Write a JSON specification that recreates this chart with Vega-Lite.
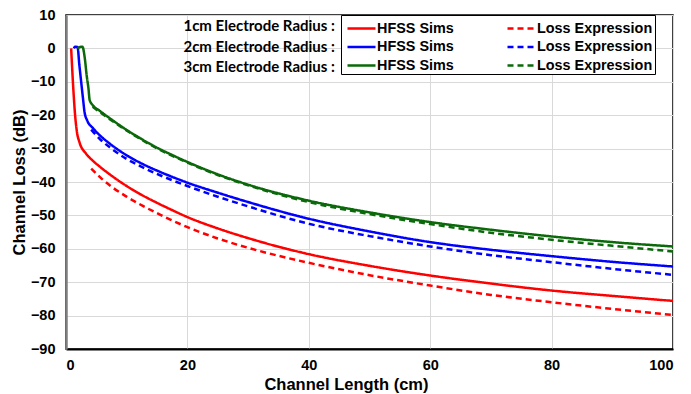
{
  "$schema": "https://vega.github.io/schema/vega-lite/v6.json",
  "width": 607,
  "height": 334,
  "autosize": "none",
  "padding": {"left": 66, "top": 15, "right": 18, "bottom": 45},
  "background": "white",
  "config": {
    "view": {"stroke": "#000000", "strokeWidth": 1.5},
    "font": "Liberation Sans",
    "axis": {
      "labelFont": "Liberation Sans",
      "labelFontWeight": "bold",
      "labelFontSize": 14.5,
      "labelColor": "#000000",
      "labelOverlap": false,
      "titleFont": "Liberation Sans",
      "titleFontWeight": "bold",
      "titleFontSize": 16.5,
      "titleColor": "#000000",
      "gridColor": "#d9d9d9",
      "gridWidth": 1,
      "ticks": false
    }
  },
  "datasets": {
    "curves": [
      {"series": "1cm HFSS", "x": 0.85, "y": 0},
      {"series": "1cm HFSS", "x": 1.2, "y": -12},
      {"series": "1cm HFSS", "x": 1.5, "y": -20},
      {"series": "1cm HFSS", "x": 1.8, "y": -25},
      {"series": "1cm HFSS", "x": 2.2, "y": -28},
      {"series": "1cm HFSS", "x": 3.3, "y": -31.5},
      {"series": "1cm HFSS", "x": 4.4, "y": -33.6},
      {"series": "1cm HFSS", "x": 5.5, "y": -35.3},
      {"series": "1cm HFSS", "x": 7.5, "y": -38.1},
      {"series": "1cm HFSS", "x": 9.9, "y": -41.1},
      {"series": "1cm HFSS", "x": 12.5, "y": -43.9},
      {"series": "1cm HFSS", "x": 15.4, "y": -46.6},
      {"series": "1cm HFSS", "x": 17, "y": -48},
      {"series": "1cm HFSS", "x": 20, "y": -50.5},
      {"series": "1cm HFSS", "x": 25, "y": -53.9},
      {"series": "1cm HFSS", "x": 30, "y": -56.8},
      {"series": "1cm HFSS", "x": 40, "y": -61.6},
      {"series": "1cm HFSS", "x": 50, "y": -65.1},
      {"series": "1cm HFSS", "x": 60, "y": -68},
      {"series": "1cm HFSS", "x": 70, "y": -70.4},
      {"series": "1cm HFSS", "x": 80, "y": -72.5},
      {"series": "1cm HFSS", "x": 90, "y": -74.1},
      {"series": "1cm HFSS", "x": 100, "y": -75.6},

      {"series": "1cm Loss", "x": 4.15, "y": -36},
      {"series": "1cm Loss", "x": 6, "y": -39.2},
      {"series": "1cm Loss", "x": 7.5, "y": -41.4},
      {"series": "1cm Loss", "x": 9.9, "y": -44.3},
      {"series": "1cm Loss", "x": 12.5, "y": -47},
      {"series": "1cm Loss", "x": 15.4, "y": -49.7},
      {"series": "1cm Loss", "x": 17, "y": -51.1},
      {"series": "1cm Loss", "x": 20, "y": -53.5},
      {"series": "1cm Loss", "x": 25, "y": -56.9},
      {"series": "1cm Loss", "x": 30, "y": -59.7},
      {"series": "1cm Loss", "x": 40, "y": -64.2},
      {"series": "1cm Loss", "x": 50, "y": -67.9},
      {"series": "1cm Loss", "x": 60, "y": -71},
      {"series": "1cm Loss", "x": 70, "y": -73.8},
      {"series": "1cm Loss", "x": 80, "y": -76},
      {"series": "1cm Loss", "x": 90, "y": -78},
      {"series": "1cm Loss", "x": 100, "y": -79.8},

      {"series": "2cm HFSS", "x": 1.3, "y": 0},
      {"series": "2cm HFSS", "x": 1.5, "y": 0.5},
      {"series": "2cm HFSS", "x": 1.9, "y": 0.4},
      {"series": "2cm HFSS", "x": 2.2, "y": -5},
      {"series": "2cm HFSS", "x": 2.5, "y": -10},
      {"series": "2cm HFSS", "x": 2.8, "y": -15},
      {"series": "2cm HFSS", "x": 3.05, "y": -19},
      {"series": "2cm HFSS", "x": 3.5, "y": -21.6},
      {"series": "2cm HFSS", "x": 4.4, "y": -23.8},
      {"series": "2cm HFSS", "x": 5.5, "y": -25.9},
      {"series": "2cm HFSS", "x": 7.2, "y": -28.5},
      {"series": "2cm HFSS", "x": 9.9, "y": -31.9},
      {"series": "2cm HFSS", "x": 12.5, "y": -34.5},
      {"series": "2cm HFSS", "x": 15.4, "y": -36.9},
      {"series": "2cm HFSS", "x": 17, "y": -38.1},
      {"series": "2cm HFSS", "x": 20, "y": -40.2},
      {"series": "2cm HFSS", "x": 25, "y": -43.2},
      {"series": "2cm HFSS", "x": 30, "y": -46},
      {"series": "2cm HFSS", "x": 40, "y": -51},
      {"series": "2cm HFSS", "x": 50, "y": -54.8},
      {"series": "2cm HFSS", "x": 60, "y": -58},
      {"series": "2cm HFSS", "x": 70, "y": -60.3},
      {"series": "2cm HFSS", "x": 80, "y": -62.2},
      {"series": "2cm HFSS", "x": 90, "y": -63.9},
      {"series": "2cm HFSS", "x": 100, "y": -65.3},

      {"series": "2cm Loss", "x": 4.15, "y": -24.3},
      {"series": "2cm Loss", "x": 5.5, "y": -27},
      {"series": "2cm Loss", "x": 7.2, "y": -29.6},
      {"series": "2cm Loss", "x": 9.9, "y": -33},
      {"series": "2cm Loss", "x": 12.5, "y": -35.5},
      {"series": "2cm Loss", "x": 15.4, "y": -37.9},
      {"series": "2cm Loss", "x": 17, "y": -39.1},
      {"series": "2cm Loss", "x": 20, "y": -41.2},
      {"series": "2cm Loss", "x": 25, "y": -44.4},
      {"series": "2cm Loss", "x": 30, "y": -47.3},
      {"series": "2cm Loss", "x": 40, "y": -52.5},
      {"series": "2cm Loss", "x": 50, "y": -56.2},
      {"series": "2cm Loss", "x": 60, "y": -59.3},
      {"series": "2cm Loss", "x": 70, "y": -61.9},
      {"series": "2cm Loss", "x": 80, "y": -64},
      {"series": "2cm Loss", "x": 90, "y": -66},
      {"series": "2cm Loss", "x": 100, "y": -67.8},

      {"series": "3cm HFSS", "x": 1.9, "y": 0},
      {"series": "3cm HFSS", "x": 2.3, "y": 0.4},
      {"series": "3cm HFSS", "x": 2.7, "y": 0.5},
      {"series": "3cm HFSS", "x": 3.1, "y": -3},
      {"series": "3cm HFSS", "x": 3.4, "y": -8},
      {"series": "3cm HFSS", "x": 3.7, "y": -12},
      {"series": "3cm HFSS", "x": 3.9, "y": -15.5},
      {"series": "3cm HFSS", "x": 4.4, "y": -17},
      {"series": "3cm HFSS", "x": 5.5, "y": -18.6},
      {"series": "3cm HFSS", "x": 7.2, "y": -20.9},
      {"series": "3cm HFSS", "x": 9.9, "y": -24.3},
      {"series": "3cm HFSS", "x": 12.5, "y": -27.2},
      {"series": "3cm HFSS", "x": 15.4, "y": -30.1},
      {"series": "3cm HFSS", "x": 17, "y": -31.5},
      {"series": "3cm HFSS", "x": 20, "y": -34},
      {"series": "3cm HFSS", "x": 25, "y": -37.7},
      {"series": "3cm HFSS", "x": 30, "y": -40.8},
      {"series": "3cm HFSS", "x": 40, "y": -45.6},
      {"series": "3cm HFSS", "x": 50, "y": -49.1},
      {"series": "3cm HFSS", "x": 60, "y": -52},
      {"series": "3cm HFSS", "x": 70, "y": -54.3},
      {"series": "3cm HFSS", "x": 80, "y": -56.3},
      {"series": "3cm HFSS", "x": 90, "y": -58},
      {"series": "3cm HFSS", "x": 100, "y": -59.3},

      {"series": "3cm Loss", "x": 4.4, "y": -17.5},
      {"series": "3cm Loss", "x": 5.5, "y": -19},
      {"series": "3cm Loss", "x": 7.2, "y": -21.2},
      {"series": "3cm Loss", "x": 9.9, "y": -24.5},
      {"series": "3cm Loss", "x": 12.5, "y": -27.4},
      {"series": "3cm Loss", "x": 15.4, "y": -30.3},
      {"series": "3cm Loss", "x": 17, "y": -31.7},
      {"series": "3cm Loss", "x": 20, "y": -34.2},
      {"series": "3cm Loss", "x": 25, "y": -37.9},
      {"series": "3cm Loss", "x": 30, "y": -41},
      {"series": "3cm Loss", "x": 40, "y": -46},
      {"series": "3cm Loss", "x": 50, "y": -49.6},
      {"series": "3cm Loss", "x": 60, "y": -52.6},
      {"series": "3cm Loss", "x": 70, "y": -55.2},
      {"series": "3cm Loss", "x": 80, "y": -57.3},
      {"series": "3cm Loss", "x": 90, "y": -59.1},
      {"series": "3cm Loss", "x": 100, "y": -60.8}
    ],
    "rowlabels": [
      {"label": "1cm Electrode Radius :", "x": 44.3, "y": 6.7},
      {"label": "2cm Electrode Radius :", "x": 44.3, "y": 0.55},
      {"label": "3cm Electrode Radius :", "x": 44.3, "y": -5.6}
    ]
  },
  "layer": [
    {
      "data": {"name": "curves"},
      "mark": {"type": "line", "strokeWidth": 2.5, "interpolate": "monotone", "clip": true},
      "encoding": {
        "x": {
          "field": "x", "type": "quantitative",
          "scale": {"domain": [0, 100], "nice": false},
          "axis": {
            "title": "Channel Length (cm)",
            "values": [0, 20, 40, 60, 80, 100],
            "tickCount": 20,
            "labelPadding": 9,
            "titlePadding": 5,
            "titleX": 280,
            "domainColor": "#000000",
            "domainWidth": 2
          }
        },
        "y": {
          "field": "y", "type": "quantitative",
          "scale": {"domain": [-90, 10], "nice": false},
          "axis": {
            "title": "Channel Loss (dB)",
            "values": [-90, -80, -70, -60, -50, -40, -30, -20, -10, 0, 10],
            "tickCount": 20,
            "labelOverlap": false,
            "labelPadding": 11,
            "titlePadding": 3,
            "domainColor": "#7f7f7f",
            "domainWidth": 2.5
          }
        },
        "color": {
          "field": "series", "type": "nominal",
          "scale": {
            "domain": ["1cm HFSS", "1cm Loss", "2cm HFSS", "2cm Loss", "3cm HFSS", "3cm Loss"],
            "range": ["#ff0000", "#ff0000", "#0000ff", "#0000ff", "#0b690b", "#0b690b"]
          },
          "legend": {
            "title": null,
            "orient": "none",
            "legendX": 275,
            "legendY": 0,
            "columns": 2,
            "direction": "horizontal",
            "columnPadding": 48,
            "rowPadding": 0.5,
            "padding": 2,
            "symbolOffset": 7,
            "strokeColor": "#000000",
            "fillColor": "#ffffff",
            "symbolType": "M-1.4,0H1.4",
            "symbolSize": 400,
            "symbolStrokeWidth": 2.5,
            "labelFont": "Liberation Sans",
            "labelFontWeight": "bold",
            "labelFontSize": 14.4,
            "labelColor": "#000000",
            "labelOffset": 4,
            "labelExpr": "indexof(datum.label, 'HFSS') >= 0 ? 'HFSS Sims' : 'Loss Expression'"
          }
        },
        "strokeDash": {
          "field": "series", "type": "nominal",
          "scale": {
            "domain": ["1cm HFSS", "1cm Loss", "2cm HFSS", "2cm Loss", "3cm HFSS", "3cm Loss"],
            "range": [[1, 0], [6, 4], [1, 0], [6, 4], [1, 0], [6, 4]]
          },
          "legend": {"title": null}
        }
      }
    },
    {
      "data": {"name": "rowlabels"},
      "mark": {"type": "text", "align": "right", "baseline": "middle", "font": "Lato", "fontWeight": "bold", "fontSize": 15, "color": "#000000"},
      "encoding": {
        "x": {"field": "x", "type": "quantitative"},
        "y": {"field": "y", "type": "quantitative"},
        "text": {"field": "label"}
      }
    }
  ]
}
